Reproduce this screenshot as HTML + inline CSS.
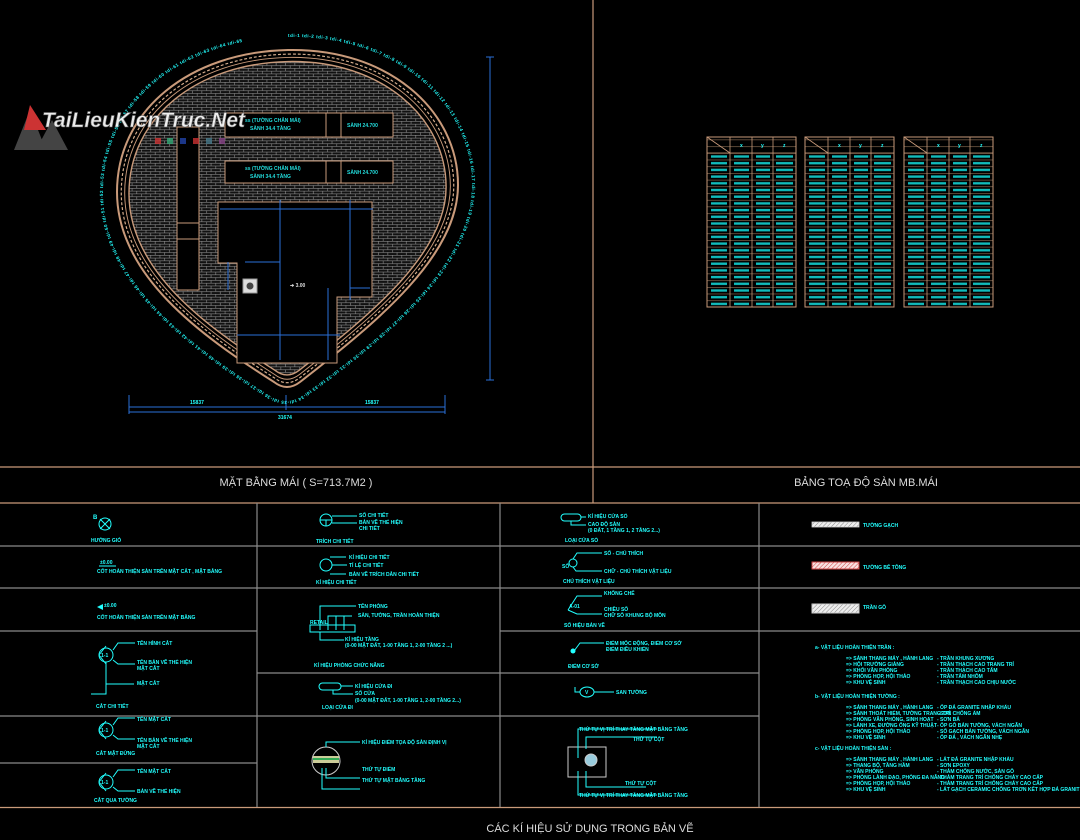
<!DOCTYPE html>
<html><head><meta charset="utf-8"><style>
html,body{margin:0;padding:0;background:#000;width:1080px;height:840px;overflow:hidden}
svg{display:block}
.t{font-family:"Liberation Sans",sans-serif;font-weight:bold;fill:#2ff;font-size:5px}
.s{font-family:"Liberation Sans",sans-serif;font-weight:bold;fill:#2ff;font-size:6px}
.ti{font-family:"Liberation Sans Narrow","Liberation Sans","DejaVu Sans",sans-serif;fill:#ddd;font-size:11px}
.c{stroke:#2ff;fill:none;stroke-width:1}
.g{stroke:#8a8a8a;stroke-width:1.2}
.tan{stroke:#c99a7a;stroke-width:1.2}
</style></head><body>
<svg width="1080" height="840" viewBox="0 0 1080 840" xmlns="http://www.w3.org/2000/svg">
<defs>
<pattern id="brick" width="10" height="6" patternUnits="userSpaceOnUse">
<rect width="10" height="6" fill="#111"/>
<path d="M0 0.3H10M0 3.3H10M0.3 0V3M5.3 3V6" stroke="#8c8c8c" stroke-width="0.7"/>
</pattern>
<pattern id="rows1" x="0" y="153" width="10" height="6.7" patternUnits="userSpaceOnUse">
<path d="M0 0.3H10" stroke="#b08a6a" stroke-width="0.5"/>
</pattern>
<pattern id="bars" x="0" y="153" width="10" height="6.7" patternUnits="userSpaceOnUse">
<rect x="0" y="2.3" width="10" height="2.4" fill="#1bb"/>
</pattern>
<pattern id="hatch" width="3" height="3" patternUnits="userSpaceOnUse" patternTransform="rotate(45)">
<rect width="3" height="3" fill="#f8e0e0"/><path d="M0 0V3" stroke="#c44" stroke-width="1"/>
</pattern>
<pattern id="hatch2" width="3" height="3" patternUnits="userSpaceOnUse" patternTransform="rotate(45)">
<rect width="3" height="3" fill="#eee"/><path d="M0 0V3" stroke="#888" stroke-width="1"/>
</pattern>
<path id="shape" d="M288,50 C388,48 458,110 458,185 C458,255 380,320 300,382 Q287,392 274,382 C200,335 117,275 117,192 C117,110 190,52 288,50 Z"/>
<path id="lblpath" d="M288,37 C397,35 472,104 472,185 C472,262 390,333 302,396 Q287,406 270,396 C190,345 103,282 103,192 C103,102 183,39 288,37 Z"/>
</defs>
<rect width="1080" height="840" fill="#000"/>

<!-- plan -->
<g>
<use href="#shape" fill="none" stroke="#c99a7a" stroke-width="2"/>
<use href="#shape" transform="translate(288 215) scale(0.975) translate(-288 -215)" fill="none" stroke="#d8b090" stroke-width="1.2" stroke-dasharray="3 2"/>
<use href="#shape" transform="translate(288 215) scale(0.955) translate(-288 -215)" fill="none" stroke="#c99a7a" stroke-width="1"/>
<use href="#shape" transform="translate(288 215) scale(0.93) translate(-288 -215)" fill="url(#brick)" stroke="#c99a7a" stroke-width="1.5"/>
<g fill="#000" stroke="#c99a7a" stroke-width="1">
<rect x="225" y="113" width="168" height="24"/>
<rect x="225" y="161" width="168" height="22"/>
<rect x="177" y="127" width="22" height="163"/>
<path d="M218,202 H372 V297 H337 V363 H237 V263 H218 Z"/>
</g>
<path d="M326 113V137M341 113V137M326 161V183M341 161V183M177 223H199M177 239H199" stroke="#c99a7a" stroke-width="1"/>
<text class="t" x="245" y="122" style="fill:#2dd">ss (TƯỜNG CHẮN MÁI)</text><text class="t" x="250" y="130" style="fill:#2dd">SÀNH 34.4 TẦNG</text>
<text class="t" x="347" y="127" style="fill:#2dd">SÀNH 24.700</text>
<text class="t" x="245" y="170" style="fill:#2dd">ss (TƯỜNG CHẮN MÁI)</text><text class="t" x="250" y="178" style="fill:#2dd">SÀNH 34.4 TẦNG</text>
<text class="t" x="347" y="174" style="fill:#2dd">SÀNH 24.700</text>
<g stroke="#2a6fd8" stroke-width="1" fill="none">
<path d="M220 209H373M280 200V360M350 200V300M237 335H340M228 262V290M245 262H280M328 288V360M350 288H370"/>
<path d="M129 395V414M445 395V414M286 395V410M129 407H445M129 412H445"/>
<path d="M490 57V380M486 57H494M486 380H494"/>
</g>
<rect x="243" y="279" width="14" height="14" fill="#ddd" stroke="#999"/><circle cx="250" cy="286" r="3.5" fill="#444"/>
<text class="t" x="290" y="287" style="fill:#ddd">➔ 3.00</text>
<text class="t" x="190" y="404">15837</text><text class="t" x="365" y="404">15837</text><text class="t" x="278" y="419">31674</text>
<text class="t" style="font-size:4.5px"><textPath href="#lblpath" textLength="1075" lengthAdjust="spacing">tdi-1   tdi-2   tdi-3   tdi-4   tdi-5   tdi-6   tdi-7   tdi-8   tdi-9   tdi-10   tdi-11   tdi-12   tdi-13   tdi-14   tdi-15   tdi-16   tdi-17   tdi-18   tdi-19   tdi-20   tdi-21   tdi-22   tdi-23   tdi-24   tdi-25   tdi-26   tdi-27   tdi-28   tdi-29   tdi-30   tdi-31   tdi-32   tdi-33   tdi-34   tdi-35   tdi-36   tdi-37   tdi-38   tdi-39   tdi-40   tdi-41   tdi-42   tdi-43   tdi-44   tdi-45   tdi-46   tdi-47   tdi-48   tdi-49   tdi-50   tdi-51   tdi-52   tdi-53   tdi-54   tdi-55   tdi-56   tdi-57   tdi-58   tdi-59   tdi-60   tdi-61   tdi-62   tdi-63   tdi-64   tdi-65</textPath></text>
</g>
<!-- watermark -->
<g>
<path d="M14 150 L30 110 L46 150 Z M36 150 L52 120 L68 150 Z" fill="#555" opacity="0.8"/>
<path d="M30 105 L46 130 L24 130 Z" fill="#c33"/>
<text x="42" y="127" font-family="Liberation Sans,sans-serif" font-style="italic" font-weight="bold" font-size="21" fill="#fff" stroke="#666" stroke-width="0.6" opacity="0.92">TaiLieuKienTruc.Net</text>
<g opacity="0.8"><rect x="155" y="138" width="6" height="6" fill="#c33"/><rect x="167" y="138" width="6" height="6" fill="#3a7"/><rect x="180" y="138" width="6" height="6" fill="#24a"/><rect x="193" y="138" width="6" height="6" fill="#c33"/><rect x="206" y="138" width="6" height="6" fill="#478"/><rect x="219" y="138" width="6" height="6" fill="#848"/></g>
</g>

<!-- tables -->
<g>
<g id="tb1">
<rect x="707" y="137" width="89" height="170" fill="url(#rows1)" stroke="#c99a7a" stroke-width="1"/>
<path d="M730 137V307M752 137V307M773 137V307M707 153H796M707 137L730 153" stroke="#c99a7a" stroke-width="0.8"/>
<rect x="711" y="155" width="16" height="151" fill="url(#bars)"/>
<rect x="734" y="155" width="15" height="151" fill="url(#bars)"/>
<rect x="756" y="155" width="14" height="151" fill="url(#bars)"/>
<rect x="776" y="155" width="17" height="151" fill="url(#bars)"/>
<text class="t" x="740" y="147">x</text><text class="t" x="761" y="147">y</text><text class="t" x="783" y="147">z</text>
</g>
<use href="#tb1" transform="translate(98 0)"/>
<use href="#tb1" transform="translate(197 0)"/>
</g>

<path d="M593 0V503M0 467H1080M0 503H1080M0 807.5H1080" class="tan"/>
<text class="ti" x="296" y="486" text-anchor="middle">MẶT BẰNG  MÁI ( S=713.7M2 )</text>
<text class="ti" x="866" y="486" text-anchor="middle">BẢNG TOẠ ĐỘ SÀN MB.MÁI</text>
<text class="ti" x="590" y="832" text-anchor="middle">CÁC KÍ HIỆU SỬ DỤNG TRONG BẢN VẼ</text>
<g class="g">
<path d="M257 503V807M500 503V807M759 503V807"/>
<path d="M0 546H1080M0 588H1080M0 631H257M500 631H1080M257 673H759M0 716H759M0 763H257"/>
</g>

<g>
<circle cx="105" cy="524" r="6" class="c"/><path d="M100 519L110 529M110 519L100 529" class="c"/><text class="s" x="93" y="519">B</text>
<text class="t" x="91" y="542">HƯỚNG GIÓ</text>
<text class="t" x="100" y="564">±0.00</text><path d="M99 566H116" class="c"/>
<text class="t" x="97" y="573">CỐT HOÀN THIỆN SÀN TRÊN MẶT CẮT , MẶT BẰNG</text>
<path d="M97 607L103 604L103 610Z" fill="#2ff"/><text class="t" x="104" y="607">±0.00</text>
<text class="t" x="97" y="619">CỐT HOÀN THIỆN SÀN TRÊN MẶT BẰNG</text>
<g id="sec"><circle cx="106" cy="655" r="7" class="c"/><path d="M99 655L106 646M99 655L106 664" class="c"/><text class="t" x="101" y="657">1-1</text>
<path d="M113 650L118 643H135M113 660L118 664H135" class="c"/></g>
<text class="t" x="137" y="645">TÊN HÌNH CẮT</text><text class="t" x="137" y="664">TÊN BẢN VẼ THỂ HIỆN</text><text class="t" x="137" y="670">MẶT CẮT</text>
<path d="M106 662V694H91M106 684H134" class="c"/><text class="t" x="137" y="685">MẶT CẮT</text>
<text class="t" x="96" y="708">CẮT CHI TIẾT</text>
<use href="#sec" transform="translate(0 75)"/><text class="t" x="137" y="721">TÊN MẶT CẮT</text><text class="t" x="137" y="742">TÊN BẢN VẼ THỂ HIỆN</text><text class="t" x="137" y="748">MẶT CẮT</text>
<text class="t" x="96" y="755">CẮT MẶT ĐỨNG</text>
<use href="#sec" transform="translate(0 127)"/><text class="t" x="137" y="773">TÊN MẶT CẮT</text><text class="t" x="137" y="793">BẢN VẼ THỂ HIỆN</text>
<text class="t" x="94" y="802">CẮT QUA TƯỜNG</text>
</g>
<g>
<circle cx="326" cy="520" r="6" class="c"/><path d="M320 520H332M326 520V526" class="c"/><path d="M332 516H357M332 523H357" class="c"/>
<text class="t" x="359" y="517">SỐ CHI TIẾT</text><text class="t" x="359" y="524">BẢN VẼ THỂ HIỆN</text><text class="t" x="359" y="530">CHI TIẾT</text>
<text class="t" x="316" y="543">TRÍCH CHI TIẾT</text>
<circle cx="326" cy="565" r="6" class="c"/><path d="M330 557H346M332 565H347M330 574H346" class="c"/>
<text class="t" x="349" y="559">KÍ HIỆU CHI TIẾT</text><text class="t" x="349" y="567">TỈ LỆ CHI TIẾT</text><text class="t" x="349" y="576">BẢN VẼ TRÍCH DẪN CHI TIẾT</text>
<text class="t" x="316" y="584">KÍ HIỆU CHI TIẾT</text>
<path d="M320 630V606H356M328 630V616H352M336 616V630M344 616V630" class="c"/><rect x="310" y="625" width="45" height="7" class="c"/>
<text class="t" x="310" y="624">RETAIL</text><text class="t" x="358" y="608">TÊN PHÒNG</text><text class="t" x="358" y="617">SÀN, TƯỜNG, TRẦN HOÀN THIỆN</text>
<path d="M320 632V640H344" class="c"/><text class="t" x="345" y="641">KÍ HIỆU TẦNG</text><text class="t" x="345" y="647">(0-00 MẶT ĐẤT, 1-00 TẦNG 1, 2-00 TẦNG 2 ...)</text>
<text class="t" x="314" y="667">KÍ HIỆU PHÒNG CHỨC NĂNG</text>
<rect x="319" y="683" width="22" height="7" rx="3.5" class="c"/><path d="M341 686H353M333 690V694H353" class="c"/>
<text class="t" x="355" y="688">KÍ HIỆU CỬA ĐI</text><text class="t" x="355" y="695">SỐ CỬA</text><text class="t" x="355" y="702">(0-00 MẶT ĐẤT, 1-00 TẦNG 1, 2-00 TẦNG 2...)</text>
<text class="t" x="322" y="709">LOẠI CỬA ĐI</text>
<circle cx="326" cy="761" r="14" fill="#000" stroke="#ccc" stroke-width="1"/><rect x="313" y="756" width="26" height="7" fill="#cc9"/><rect x="313" y="758" width="26" height="2" fill="#3a5"/>
<path d="M326 747V742H360M326 768V778H360M322 768V789H360" class="c"/>
<text class="t" x="362" y="744">KÍ HIỆU ĐIỂM TỌA ĐỘ SÀN ĐỊNH VỊ</text><text class="t" x="362" y="771">THỨ TỰ ĐIỂM</text><text class="t" x="362" y="782">THỨ TỰ MẶT BẰNG TẦNG</text>
</g>
<g>
<rect x="561" y="514" width="20" height="7" rx="3.5" class="c"/><path d="M581 517H586M571 521V525H586" class="c"/>
<text class="t" x="588" y="518">KÍ HIỆU CỬA SỔ</text><text class="t" x="588" y="526">CAO ĐỘ SÀN</text><text class="t" x="588" y="532">(0 ĐẤT, 1 TẦNG 1, 2 TẦNG 2...)</text>
<text class="t" x="565" y="542">LOẠI CỬA SỔ</text>
<circle cx="573" cy="563" r="4" class="c"/><path d="M573 559L577 553H602M573 567L576 571H602" class="c"/><text class="t" x="562" y="568">SỐ</text>
<text class="t" x="604" y="555">SỐ - CHÚ THÍCH</text><text class="t" x="604" y="573">CHỮ - CHÚ THÍCH VẬT LIỆU</text>
<text class="t" x="563" y="583">CHÚ THÍCH VẬT LIỆU</text>
<path d="M568 610L577 596H602M568 610L577 614H602" class="c"/><text class="t" x="569" y="608">A-01</text>
<text class="t" x="604" y="595">KHỐNG CHẾ</text><text class="t" x="604" y="611">CHIỀU SỐ</text><text class="t" x="604" y="617">CHỮ SỐ KHUNG BỘ MÔN</text>
<text class="t" x="564" y="627">SỐ HIỆU BẢN VẼ</text>
<path d="M574 651L580 643H604" class="c"/><circle cx="573" cy="651" r="2.5" fill="#2ff"/>
<text class="t" x="606" y="645">ĐIỂM MỐC ĐỘNG, ĐIỂM CƠ SỞ</text><text class="t" x="606" y="651">ĐIỂM ĐIỀU KHIỂN</text>
<text class="t" x="568" y="668">ĐIỂM CƠ SỞ</text>
<ellipse cx="587" cy="692" rx="7" ry="5" class="c"/><path d="M575 687V692H580M594 692H614" class="c"/><text class="t" x="585" y="694">V</text>
<text class="t" x="616" y="694">SAN TƯỜNG</text>
<rect x="568" y="747" width="38" height="30" class="c" style="stroke:#ccc"/><circle cx="591" cy="760" r="6" fill="#9cd" stroke="#ccc"/>
<path d="M578 758V729H657M586 749V737H657M586 771V787H646M578 771V795H657" class="c"/>
<text class="t" x="579" y="731">THỨ TỰ VỊ TRÍ THAY TẦNG MẶT BẰNG TẦNG</text><text class="t" x="633" y="741">THỨ TỰ CỘT</text>
<text class="t" x="625" y="785">THỨ TỰ CỘT</text><text class="t" x="579" y="797">THỨ TỰ VỊ TRÍ THAY TẦNG MẶT BẰNG TẦNG</text>
</g>
<g>
<rect x="812" y="522" width="47" height="5" fill="url(#hatch2)" stroke="#ccc" stroke-width="0.8"/><text class="t" x="863" y="527">TƯỜNG GẠCH</text>
<rect x="812" y="562" width="47" height="7" fill="url(#hatch)" stroke="#c44" stroke-width="1"/><text class="t" x="863" y="569">TƯỜNG BÊ TÔNG</text>
<rect x="812" y="604" width="47" height="9" fill="url(#hatch2)" stroke="#ccc" stroke-width="1"/><text class="t" x="863" y="609">TRẦN GỖ</text>
<text class="t" x="815" y="649">a- VẬT LIỆU HOÀN THIỆN TRẦN :</text>
<text class="t" x="846" y="660">=&gt; SẢNH THANG MÁY , HÀNH LANG</text><text class="t" x="846" y="666">=&gt; HỘI TRƯỜNG GIẢNG</text><text class="t" x="846" y="672">=&gt; KHỐI VĂN PHÒNG</text><text class="t" x="846" y="678">=&gt; PHÒNG HỌP, HỘI THẢO</text><text class="t" x="846" y="684">=&gt; KHU VỆ SINH</text>
<text class="t" x="937" y="660">-  TRẦN KHUNG XƯƠNG</text><text class="t" x="937" y="666">-  TRẦN THẠCH CAO TRANG TRÍ</text><text class="t" x="937" y="672">-  TRẦN THẠCH CAO TẤM</text><text class="t" x="937" y="678">-  TRẦN TẤM NHÔM</text><text class="t" x="937" y="684">-  TRẦN THẠCH CAO CHỊU NƯỚC</text>
<text class="t" x="815" y="698">b- VẬT LIỆU HOÀN THIỆN TƯỜNG :</text>
<text class="t" x="846" y="709">=&gt; SẢNH THANG MÁY , HÀNH LANG</text><text class="t" x="846" y="715">=&gt; SẢNH THOÁT HIỂM, TƯỜNG TRANG TRÍ</text><text class="t" x="846" y="721">=&gt; PHÒNG VĂN PHÒNG, SINH HOẠT</text><text class="t" x="846" y="727">=&gt; LÁNH XE, ĐƯỜNG ỐNG KỸ THUẬT</text><text class="t" x="846" y="733">=&gt; PHÒNG HỌP, HỘI THẢO</text><text class="t" x="846" y="739">=&gt; KHU VỆ SINH</text>
<text class="t" x="937" y="709">-  ỐP ĐÁ GRANITE NHẬP KHẨU</text><text class="t" x="937" y="715">-  SƠN CHỐNG ẨM</text><text class="t" x="937" y="721">-  SƠN BẢ</text><text class="t" x="937" y="727">-  ỐP GỖ BẢN TƯỜNG, VÁCH NGĂN</text><text class="t" x="937" y="733">-  SỐ GẠCH BẢN TƯỜNG, VÁCH NGĂN</text><text class="t" x="937" y="739">-  ỐP ĐÁ , VÁCH NGĂN NHẸ</text>
<text class="t" x="815" y="750">c- VẬT LIỆU HOÀN THIỆN SÀN :</text>
<text class="t" x="846" y="761">=&gt; SẢNH THANG MÁY , HÀNH LANG</text><text class="t" x="846" y="767">=&gt; THANG BỘ, TẦNG HẦM</text><text class="t" x="846" y="773">=&gt; VĂN PHÒNG</text><text class="t" x="846" y="779">=&gt; PHÒNG LÀNH ĐẠO, PHÒNG ĐA NĂNG</text><text class="t" x="846" y="785">=&gt; PHÒNG HỌP, HỘI THẢO</text><text class="t" x="846" y="791">=&gt; KHU VỆ SINH</text>
<text class="t" x="937" y="761">-  LÁT ĐÁ GRANITE NHẬP KHẨU</text><text class="t" x="937" y="767">-  SƠN EPOXY</text><text class="t" x="937" y="773">-  THẢM CHỐNG NƯỚC, SÀN GỖ</text><text class="t" x="937" y="779">-  THẢM TRANG TRÍ CHỐNG CHÁY CAO CẤP</text><text class="t" x="937" y="785">-  THẢM TRANG TRÍ CHỐNG CHÁY CAO CẤP</text><text class="t" x="937" y="791">-  LÁT GẠCH CERAMIC CHỐNG TRƠN KẾT HỢP ĐÁ GRANIT</text>
</g>
</svg>
</body></html>
